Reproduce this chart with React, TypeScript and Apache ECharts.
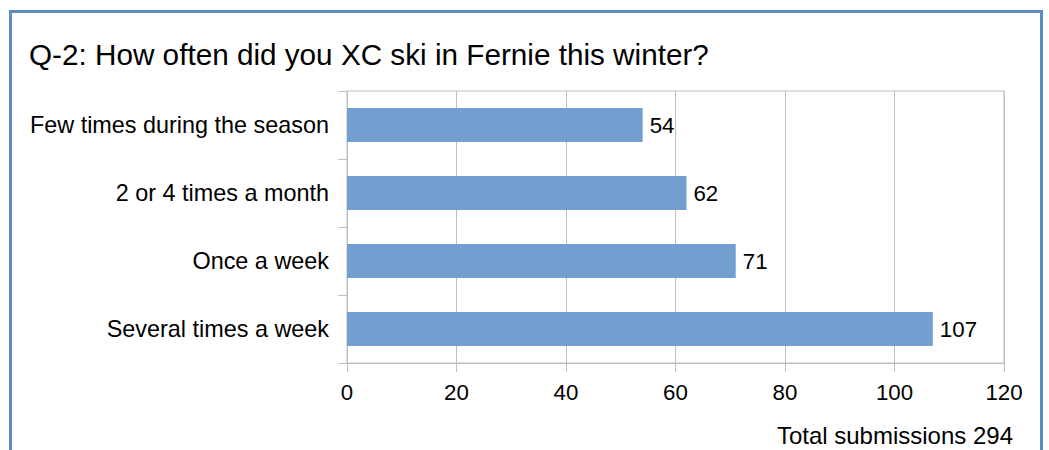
import React, { useEffect, useRef } from "react";
import * as echarts from "echarts";

const categories = [
  "Few times during the season",
  "2 or 4 times a month",
  "Once a week",
  "Several times a week",
];
const values = [54, 62, 71, 107];
const titleText = "Q-2: How often did you XC ski in Fernie this winter?";
const footnote = "Total submissions 294";

const FONT = "Liberation Sans, Arial, sans-serif";
const GREY = "#BFBFBF";

export default function App() {
  const ref = useRef<HTMLDivElement>(null);
  useEffect(() => {
    if (!ref.current) return;
    const chart = echarts.init(ref.current, null, { renderer: "svg" });
    chart.setOption({
      animation: false,
      backgroundColor: "#fff",
      title: {
        text: titleText,
        left: 29,
        top: 39,
        padding: 0,
        textStyle: { fontFamily: FONT, fontSize: 29.7, fontWeight: "normal", color: "#000" },
      },
      grid: {
        left: 347,
        top: 91,
        right: 45,
        bottom: 87,
        show: true,
        borderColor: GREY,
        borderWidth: 1,
      },
      xAxis: {
        type: "value",
        min: 0,
        max: 120,
        interval: 20,
        axisLine: { show: true, lineStyle: { color: GREY } },
        axisTick: { show: true, length: 9, lineStyle: { color: GREY } },
        splitLine: { show: true, lineStyle: { color: GREY } },
        axisLabel: { fontFamily: FONT, fontSize: 22.3, color: "#000", margin: 18 },
      },
      yAxis: {
        type: "category",
        data: categories,
        inverse: true,
        axisLine: { show: true, lineStyle: { color: GREY } },
        axisTick: { show: true, length: 9, lineStyle: { color: GREY } },
        axisLabel: { fontFamily: FONT, fontSize: 23.4, color: "#000", margin: 18 },
      },
      series: [
        {
          type: "bar",
          data: values,
          barCategoryGap: "50%",
          itemStyle: { color: "#739FD0" },
          label: {
            show: true,
            position: "right",
            distance: 7,
            fontFamily: FONT,
            fontSize: 22.3,
            color: "#000",
          },
        },
      ],
      graphic: [
        {
          type: "rect",
          shape: { x: 10.5, y: 11.5, width: 1031, height: 480 },
          style: { fill: "none", stroke: "#5E8AC0", lineWidth: 3 },
          silent: true,
        },
        {
          type: "text",
          right: 36,
          top: 423,
          style: { text: footnote, fontFamily: FONT, fontSize: 24, fill: "#000" },
        },
      ],
    });
    return () => chart.dispose();
  }, []);
  return (
    <div
      ref={ref}
      style={{ position: "fixed", left: 0, top: 0, width: 1049, height: 450 }}
    />
  );
}
